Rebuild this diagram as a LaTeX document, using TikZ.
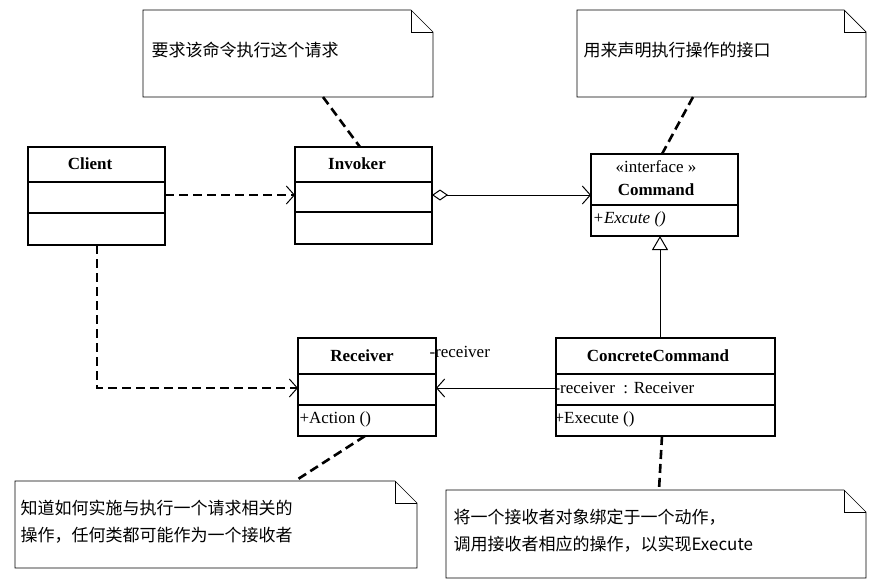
\documentclass[tikz,border=0pt]{standalone}
\usepackage{fontspec}
\setmainfont{Liberation Serif}
\newfontfamily\cjk{Noto Sans CJK SC}
\usetikzlibrary{arrows.meta}
\begin{document}
\begin{tikzpicture}[x=1pt,y=-1pt,
  box/.style={draw,line width=1.3pt},
  ln/.style={line width=1pt},
  dep/.style={line width=2.6pt,dash pattern=on 9pt off 5pt},
  open/.style={-{Straight Barb[length=8pt,width=18pt,line width=1pt]}},
  t/.style={font=\fontsize{17}{19}\selectfont},
  b/.style={font=\bfseries\fontsize{17}{19}\selectfont},
  c/.style={font=\cjk\fontsize{17}{27}\selectfont,align=left}]
\useasboundingbox (0,0) rectangle (873,584);
\fill[white] (0,0) rectangle (873,584);
\newcommand\mynote[4]{%
 \draw[line width=0.7pt] (#1,#2) -- (#3-22,#2) -- (#3,#2+22) -- (#3,#4) -- (#1,#4) -- cycle;
 \draw[line width=0.7pt] (#3-22,#2) -- (#3-22,#2+22) -- (#3,#2+22);}
\mynote{143}{10}{433}{97}
\coordinate (n1) at (323,97);
\node[c,anchor=west] (t1) at (148,50) {要求该命令执行这个请求};
\mynote{577}{10}{866}{97}
\coordinate (n2) at (693,97);
\node[c,anchor=west] (t2) at (580,50) {用来声明执行操作的接口};
\mynote{15}{481}{417}{568}
\coordinate (n3) at (295,481);
\node[c,anchor=west] (t3) at (17,522) {知道如何实施与执行一个请求相关的\\操作，任何类都可能作为一个接收者};
\mynote{446}{490}{866}{578}
\coordinate (n4) at (659,490);
\node[c,anchor=west] (t4) at (450,531) {将一个接收者对象绑定于一个动作，\\调用接收者相应的操作，以实现Execute};
% Client
\draw[box] (28,147) rectangle (165,245) (28,182) -- (165,182) (28,213) -- (165,213);
\node[b] (client) at (90,164) {Client};
\coordinate (cR) at (165,195); \coordinate (cB) at (97,245);
% Invoker
\draw[box] (295,147) rectangle (432,244) (295,182) -- (432,182) (295,212) -- (432,212);
\node[b] (invoker) at (357,164) {Invoker};
\coordinate (iL) at (295,195); \coordinate (iR) at (432,195); \coordinate (iT) at (360,147);
% Command
\draw[box] (591,154) rectangle (738,236) (591,205) -- (738,205);
\node[t] (stereo) at (656,167) {<<interface >>};
\node[b] (command) at (656,190) {Command};
\node[font=\itshape\fontsize{17}{19}\selectfont,anchor=west] (exc) at (589,219) {+Excute ()};
\coordinate (cmL) at (591,195); \coordinate (cmB) at (660,236); \coordinate (cmT) at (662,154);
% Receiver
\draw[box] (298,338) rectangle (436,436) (298,374) -- (436,374) (298,405) -- (436,405);
\node[b] (receiver) at (362,356) {Receiver};
\node[t,anchor=west] (act) at (296,419) {+Action ()};
\coordinate (rL) at (298,388); \coordinate (rR) at (436,388); \coordinate (rB) at (365,436);
% ConcreteCommand
\draw[box] (556,338) rectangle (775,436) (556,374) -- (775,374) (556,405) -- (775,405);
\node[b] (cc) at (658,356) {ConcreteCommand};
\node[t,anchor=west] (attr) at (551,388) {-receiver\ \ : Receiver};
\node[t,anchor=west] (exe) at (551,419) {+Execute ()};
\coordinate (ccL) at (556,388); \coordinate (ccT) at (660,338); \coordinate (ccB) at (662,436);
\node[t,anchor=west] (rl) at (426,352) {-receiver};
% connectors
\draw[dep,open] (cR) -- (iL);
\draw[dep,open] (cB) |- (rL);
\draw[ln,{Diamond[open,length=16pt,width=11pt,line width=1pt]}-{Straight Barb[length=8pt,width=18pt,line width=1pt]}] (iR) -- (cmL);
\draw[ln,-{Triangle[open,length=14pt,width=16pt,line width=1pt]}] (ccT) -- (cmB);
\draw[ln,open] (ccL) -- (rR);
\draw[dep] (n1) -- (iT);
\draw[dep] (n2) -- (cmT);
\draw[dep] (rB) -- (n3);
\draw[dep] (ccB) -- (n4);
\end{tikzpicture}
\end{document}
